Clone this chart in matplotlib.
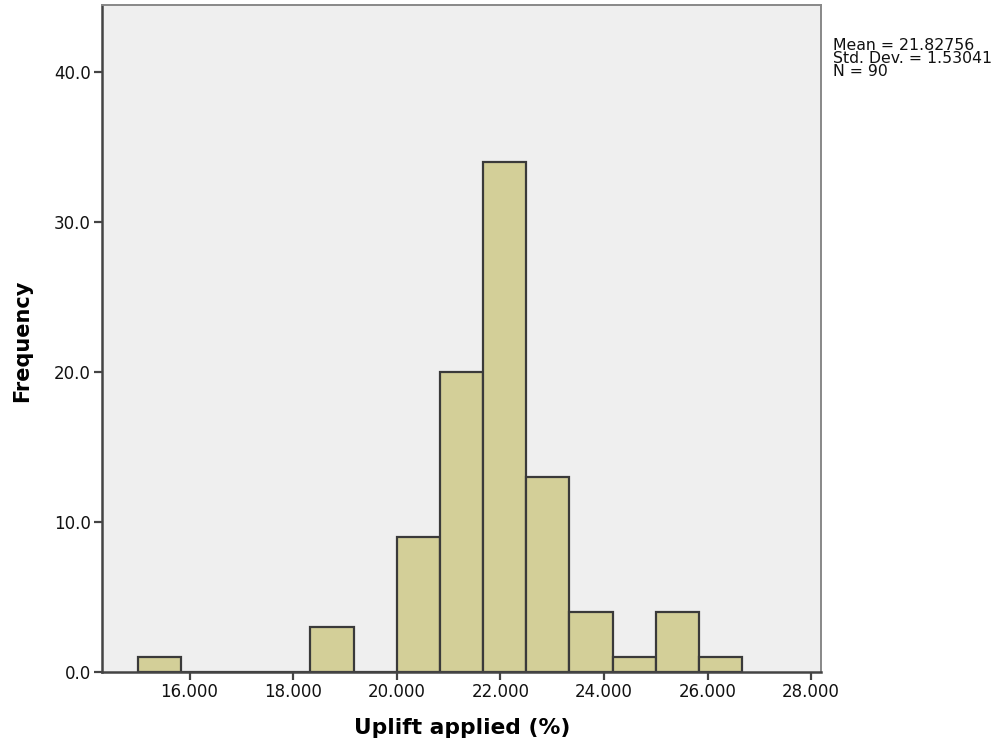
"""Histogram of uplift applied, drawn in the SPSS chart style."""

import numpy as np
import matplotlib
matplotlib.use("Agg")
from matplotlib import pyplot as plt

# Bin edges start at 15.0 with a width of 5/6; one count per bin
bin_start = 15.0
bin_width = 5.0 / 6.0
bin_counts = [1, 0, 0, 0, 3, 0, 9, 20, 34, 13, 4, 1, 4, 1]

x_ticks = [16, 18, 20, 22, 24, 26, 28]
y_ticks = [0, 10, 20, 30, 40]

stats_lines = ["Mean = 21.82756", "Std. Dev. = 1.53041", "N = 90"]

BG = "#EFEFEF"
BAR = "#D3CF98"
EDGE = "#3A3A3A"
AXIS = "#444444"

plt.rcParams["font.family"] = ["DejaVu Sans"]

fig = plt.figure(figsize=(10.05, 7.46), dpi=100)
ax = fig.add_axes([102 / 1005, 1 - 672 / 746, (821 - 102) / 1005, (672 - 5) / 746])
ax.set_facecolor(BG)

lefts = bin_start + bin_width * np.arange(len(bin_counts))
ax.bar(lefts, bin_counts, width=bin_width, align="edge",
       color=BAR, edgecolor=EDGE, linewidth=1.6, zorder=2)

ax.set_xlim(14.31, 28.19)
ax.set_ylim(0, 44.47)

ax.set_xticks(x_ticks)
ax.set_xticklabels([f"{v:.3f}" for v in x_ticks])
ax.set_yticks(y_ticks)
ax.set_yticklabels([f"{v:.1f}" for v in y_ticks])
ax.tick_params(axis="both", direction="out", length=6, width=1.6,
               color=AXIS, labelsize=12, labelcolor="#111111", pad=2)

for side in ("left", "bottom"):
    ax.spines[side].set_color(AXIS)
    ax.spines[side].set_linewidth(1.8)
for side in ("top", "right"):
    ax.spines[side].set_color("#888888")
    ax.spines[side].set_linewidth(1.4)

fig.text(462 / 1005, 1 - 728 / 746, "Uplift applied (%)", ha="center", va="center",
         fontsize=15.7, fontweight="bold")
fig.text(22 / 1005, 1 - 341 / 746, "Frequency", ha="center", va="center",
         rotation=90, fontsize=15, fontweight="bold")

# Summary statistics, one line at a time
for i, line in enumerate(stats_lines):
    fig.text(833 / 1005, 1 - (45 + 13.5 * i) / 746, line, ha="left", va="center",
             fontsize=11.3, color="#111111")

fig.savefig("out.png", dpi=100, facecolor="white")
